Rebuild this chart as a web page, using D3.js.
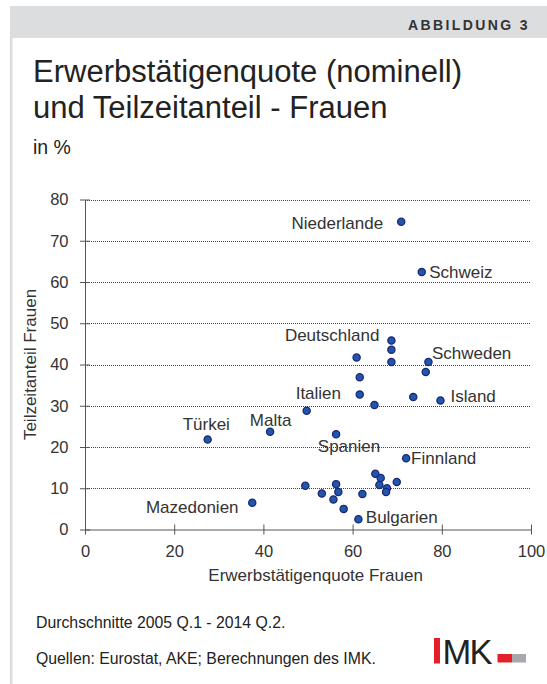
<!DOCTYPE html>
<html>
<head>
<meta charset="utf-8">
<script src="https://cdn.jsdelivr.net/npm/d3@7"></script>
<style>
  html, body { margin: 0; padding: 0; background: #fff; }
  svg { display: block; font-family: "Liberation Sans", Arial, Helvetica, sans-serif; }
</style>
</head>
<body>
<svg id="chart" width="547" height="684"></svg>
<script>
// ---- Data ----
const employment = [70.9, 75.5, 68.7, 68.7, 60.9, 68.7, 77.0, 76.4, 61.6, 61.6, 73.6, 79.7, 64.9, 49.7, 56.3, 72.0, 65.1, 66.3, 69.9, 49.4, 56.3, 66.0, 67.7, 67.5, 56.8, 53.1, 62.2, 55.7, 58.0, 61.3, 27.5, 41.5, 37.5];
const partTime   = [74.6, 62.4, 45.8, 43.6, 41.7, 40.6, 40.6, 38.2, 36.9, 32.7, 32.1, 31.3, 30.2, 28.8, 23.1, 17.3, 13.5, 12.5, 11.5, 10.6, 11.0, 10.8, 10.0, 9.1, 9.1, 8.7, 8.6, 7.3, 5.0, 2.5, 21.8, 23.7, 6.5];
const labels     = ["Niederlande", "Schweiz", "Deutschland", "", "", "", "Schweden", "", "", "", "", "Island", "", "Italien", "Spanien", "Finnland", "", "", "", "", "", "", "", "", "", "", "", "", "", "Bulgarien", "Türkei", "Malta", "Mazedonien"];
const xTicks = [0, 20, 40, 60, 80, 100];
const yTicks = [0, 10, 20, 30, 40, 50, 60, 70, 80];
const titleLines = ["Erwerbstätigenquote (nominell)", "und Teilzeitanteil - Frauen"];
const subtitle = "in %";
const xTitle = "Erwerbstätigenquote Frauen";
const yTitle = "Teilzeitanteil Frauen";
const notes = ["Durchschnitte 2005 Q.1 - 2014 Q.2.", "Quellen: Eurostat, AKE; Berechnungen des IMK."];
const figureLabel = "ABBILDUNG 3";

// ---- Label placement (layout only) ----
const labelPlace = {
  "Niederlande": {anchor: "end", dx: -18, dy: 7},
  "Schweiz": {anchor: "start", dx: 7.5, dy: 5.5},
  "Deutschland": {anchor: "end", dx: -12, dy: 0},
  "Schweden": {anchor: "start", dx: 3.5, dy: -3},
  "Island": {anchor: "start", dx: 10, dy: 2},
  "Italien": {anchor: "start", dx: -11, dy: -11.7},
  "Spanien": {anchor: "start", dx: -18.3, dy: 17.7},
  "Finnland": {anchor: "start", dx: 5, dy: 6},
  "Bulgarien": {anchor: "start", dx: 7.4, dy: 4.3},
  "Türkei": {anchor: "middle", dx: -1.4, dy: -9.7},
  "Malta": {anchor: "middle", dx: 0.5, dy: -5.3},
  "Mazedonien": {anchor: "end", dx: -13.7, dy: 10.6}
};

const svg = d3.select("#chart");

// Frame: header band and left border
svg.append("rect").attr("x", 10).attr("y", 6).attr("width", 537).attr("height", 32).attr("fill", "#dcdddf");
svg.append("rect").attr("x", 10).attr("y", 38).attr("width", 2.5).attr("height", 646).attr("fill", "#dcdddf");
svg.append("text").attr("x", 530).attr("y", 29.5).attr("text-anchor", "end")
  .attr("font-size", 14).attr("font-weight", "bold").attr("letter-spacing", "2.4px")
  .attr("fill", "#333").text(figureLabel);

// Title
svg.selectAll("text.title").data(titleLines).enter().append("text")
  .attr("class", "title").attr("x", 33).attr("y", (d, i) => 81.7 + i * 36.6)
  .attr("font-size", 31).attr("fill", "#222").text(d => d);
svg.append("text").attr("x", 33).attr("y", 154).attr("font-size", 19.5).attr("fill", "#222").text(subtitle);

// Scales
const x = d3.scaleLinear().domain([0, 100]).range([85, 531]);
const y = d3.scaleLinear().domain([0, 80]).range([529.5, 199.5]);

// Gridlines
svg.append("g").selectAll("line").data(yTicks.filter(d => d > 0)).enter().append("line")
  .attr("x1", x(0)).attr("x2", x(100)).attr("y1", d => Math.round(y(d)) + 0.5).attr("y2", d => Math.round(y(d)) + 0.5)
  .attr("stroke", "#444").attr("stroke-width", 1).attr("stroke-dasharray", "1,1");

// Axes
const xAxis = svg.append("g").attr("transform", `translate(0,${y(0)})`)
  .call(d3.axisBottom(x).tickValues(xTicks).tickSize(5).tickPadding(10.5).tickSizeOuter(0));
xAxis.selectAll(".tick line").attr("y1", -5).attr("y2", 5);
const yAxis = svg.append("g").attr("transform", `translate(${x(0)},0)`)
  .call(d3.axisLeft(y).tickValues(yTicks).tickSize(5).tickPadding(11.5).tickSizeOuter(0));
yAxis.selectAll(".tick line").attr("x1", -5).attr("x2", 5);
[xAxis, yAxis].forEach(g => {
  g.select(".domain").attr("stroke", "#555");
  g.selectAll(".tick line").attr("stroke", "#555");
  g.selectAll(".tick text").attr("font-size", 16.5).attr("fill", "#333").attr("font-family", null);
  g.attr("font-family", null);
});

// Axis titles
svg.append("text").attr("x", 315.6).attr("y", 580.7).attr("text-anchor", "middle")
  .attr("font-size", 17).attr("fill", "#333").text(xTitle);
svg.append("text").attr("transform", "translate(35.5,364.5) rotate(-90)").attr("text-anchor", "middle")
  .attr("font-size", 17).attr("fill", "#333").text(yTitle);

// Points
const pts = employment.map((e, i) => ({x: e, y: partTime[i], label: labels[i]}));
svg.append("g").selectAll("circle").data(pts).enter().append("circle")
  .attr("cx", d => x(d.x)).attr("cy", d => y(d.y)).attr("r", 3.6)
  .attr("fill", "#2155ae").attr("stroke", "#1a2a72").attr("stroke-width", 1.3);

// Labels
svg.append("g").selectAll("text").data(pts.filter(d => d.label)).enter().append("text")
  .attr("x", d => x(d.x) + labelPlace[d.label].dx)
  .attr("y", d => y(d.y) + labelPlace[d.label].dy)
  .attr("text-anchor", d => labelPlace[d.label].anchor)
  .attr("font-size", 17).attr("fill", "#333").text(d => d.label);

// Notes
svg.selectAll("text.note").data(notes).enter().append("text")
  .attr("class", "note").attr("x", 36).attr("y", (d, i) => 628 + i * 36)
  .attr("font-size", 15.8).attr("fill", "#222").text(d => d);

// IMK logo
svg.append("rect").attr("x", 434).attr("y", 638).attr("width", 6).attr("height", 25.5).attr("fill", "#e3202a");
svg.append("text").attr("x", 442.5).attr("y", 663.5).attr("font-size", 34.5).attr("font-weight", 300)
  .attr("textLength", 50).attr("fill", "#222").text("MK");
svg.append("rect").attr("x", 497.5).attr("y", 654).attr("width", 14.5).attr("height", 8.5).attr("fill", "#e3202a");
svg.append("rect").attr("x", 512).attr("y", 654).attr("width", 14).attr("height", 8.5).attr("fill", "#a7a8ab");
</script>
</body>
</html>
